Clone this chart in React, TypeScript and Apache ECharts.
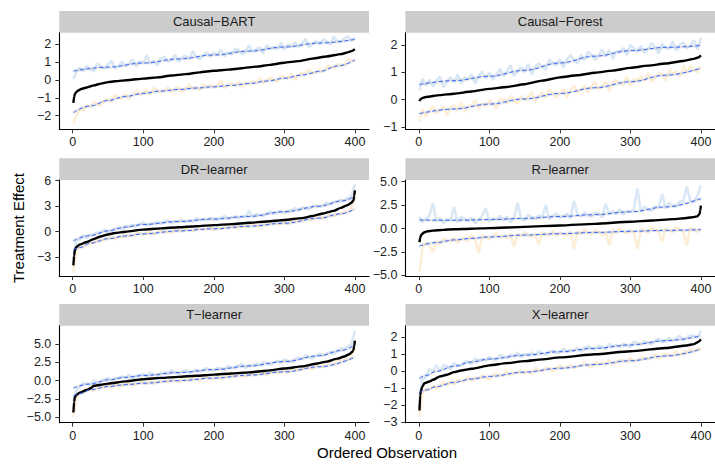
import React, { useEffect, useRef } from "react";
import * as echarts from "echarts";

// ---------- shared ----------
const panelNames = ["Causal−BART", "Causal−Forest", "DR−learner", "R−learner", "T−learner", "X−learner"];
const xTicks = [0, 100, 200, 300, 400];
const obsBand = [1, 5, 10, 15, 20, 25, 30, 35, 40, 45, 50, 55, 60, 65, 70, 75, 80, 85, 90, 95, 100, 105, 110, 115, 120, 125, 130, 135, 140, 145, 150, 155, 160, 165, 170, 175, 180, 185, 190, 195, 200, 205, 210, 215, 220, 225, 230, 235, 240, 245, 250, 255, 260, 265, 270, 275, 280, 285, 290, 295, 300, 305, 310, 315, 320, 325, 330, 335, 340, 345, 350, 355, 360, 365, 370, 375, 380, 385, 390, 395, 400];
const smoothObs9 = [1, 50, 100, 150, 200, 250, 300, 350, 400];

// ---------- Causal-BART ----------
const bartYTicks = [-2, -1, 0, 1, 2];
const bartEstObs = [1, 2, 3, 5, 8, 12, 20, 30, 40, 50, 60, 80, 100, 120, 140, 160, 180, 200, 220, 240, 260, 280, 300, 320, 340, 360, 380, 390, 395, 400];
const bartEst = [-1.28, -0.95, -0.8, -0.68, -0.58, -0.5, -0.42, -0.3, -0.2, -0.12, -0.07, 0.0, 0.08, 0.15, 0.25, 0.33, 0.43, 0.52, 0.58, 0.66, 0.75, 0.85, 0.97, 1.06, 1.2, 1.32, 1.45, 1.55, 1.62, 1.72];
const bartUpper = [0.05, 0.45, 0.69, 0.5, 0.8, 0.61, 0.49, 0.94, 0.75, 0.63, 0.86, 1.09, 0.63, 0.79, 1.02, 0.76, 0.93, 1.16, 0.76, 1.06, 0.95, 1.39, 0.92, 1.08, 0.82, 1.2, 1.29, 1.03, 1.12, 1.43, 1.03, 1.26, 1.35, 1.16, 1.61, 1.28, 1.16, 1.39, 1.56, 1.3, 1.53, 1.41, 1.71, 1.32, 1.55, 1.43, 1.73, 1.69, 1.43, 1.59, 1.96, 1.56, 1.73, 1.82, 1.49, 1.93, 1.75, 1.84, 1.72, 2.09, 1.7, 2.0, 1.88, 2.11, 1.85, 2.02, 2.32, 1.85, 2.01, 2.18, 1.99, 2.29, 2.17, 1.98, 2.43, 2.17, 2.12, 2.35, 2.45, 2.19, 2.35];
const bartLower = [-2.42, -2.0, -1.62, -1.72, -1.4, -1.51, -1.21, -1.33, -1.45, -1.09, -1.09, -1.22, -0.82, -1.01, -1.03, -0.8, -1.07, -0.79, -0.64, -0.84, -0.75, -0.6, -0.82, -0.43, -0.59, -0.68, -0.6, -0.4, -0.69, -0.49, -0.41, -0.69, -0.5, -0.24, -0.53, -0.39, -0.56, -0.24, -0.41, -0.27, -0.44, -0.3, -0.05, -0.45, -0.32, -0.18, -0.34, -0.08, -0.42, -0.16, -0.2, -0.05, -0.2, 0.12, -0.21, 0.0, 0.15, 0.0, -0.08, 0.19, 0.16, 0.08, 0.35, 0.03, 0.24, 0.4, 0.38, 0.6, 0.34, 0.44, 0.6, 0.42, 0.78, 0.72, 0.66, 0.9, 0.85, 0.8, 1.16, 1.11, 1.06];
const bartUpperSmooth = [0.5, 0.72, 0.95, 1.18, 1.4, 1.62, 1.85, 2.07, 2.28];
const bartLowerSmoothObs = [1, 25, 50, 75, 100, 125, 150, 175, 200, 225, 250, 275, 300, 325, 350, 375, 400];
const bartLowerSmooth = [-1.82, -1.45, -1.15, -0.92, -0.75, -0.62, -0.53, -0.45, -0.38, -0.3, -0.2, -0.06, 0.1, 0.28, 0.48, 0.78, 1.12];

// ---------- Causal-Forest ----------
const forestYTicks = [-1, 0, 1, 2];
const forestEstObs = [1, 2, 4, 10, 30, 50, 75, 100, 125, 150, 175, 200, 225, 250, 275, 300, 325, 350, 375, 390, 396, 400];
const forestEst = [-0.05, 0.0, 0.05, 0.1, 0.17, 0.22, 0.3, 0.4, 0.47, 0.57, 0.7, 0.82, 0.9, 0.99, 1.07, 1.17, 1.25, 1.33, 1.42, 1.5, 1.55, 1.63];
const forestUpper = [0.35, 0.78, 0.52, 0.74, 0.48, 0.7, 0.85, 0.45, 0.67, 0.83, 0.63, 0.93, 0.59, 0.82, 0.76, 0.92, 0.59, 0.88, 1.04, 0.77, 1.0, 0.74, 0.9, 1.13, 0.87, 1.04, 1.27, 0.87, 1.03, 1.2, 1.01, 1.32, 0.92, 1.23, 1.33, 1.22, 1.1, 1.48, 1.37, 1.25, 1.49, 1.17, 1.47, 1.64, 1.45, 1.34, 1.64, 1.46, 1.76, 1.65, 1.46, 1.62, 1.85, 1.59, 1.82, 1.49, 1.79, 1.74, 1.9, 1.64, 2.01, 1.88, 1.76, 1.98, 1.71, 1.86, 2.08, 1.95, 1.69, 2.05, 1.92, 1.86, 2.14, 1.8, 2.02, 2.1, 1.89, 1.97, 2.19, 1.84, 2.27];
const forestLower = [-0.79, -0.36, -0.62, -0.39, -0.23, -0.5, -0.41, -0.25, -0.58, -0.29, -0.2, -0.39, -0.09, -0.43, -0.27, -0.18, -0.02, -0.35, -0.13, -0.25, -0.02, -0.14, -0.33, 0.04, -0.01, -0.14, 0.16, -0.03, -0.15, 0.15, -0.04, 0.12, 0.28, -0.05, 0.11, 0.27, 0.08, 0.38, 0.26, 0.07, 0.23, 0.39, 0.06, 0.36, 0.52, 0.27, 0.36, 0.52, 0.26, 0.49, 0.65, 0.39, 0.48, 0.65, 0.32, 0.62, 0.71, 0.59, 0.55, 0.85, 0.52, 0.75, 0.71, 0.87, 0.69, 0.99, 0.66, 0.83, 0.99, 0.95, 0.69, 1.07, 0.95, 1.05, 0.86, 1.24, 0.99, 1.22, 1.11, 0.99, 1.23];
const forestUpperSmooth = [0.56, 0.7, 0.86, 1.08, 1.35, 1.6, 1.8, 1.92, 1.99];
const forestLowerSmooth = [-0.51, -0.34, -0.16, 0.03, 0.23, 0.44, 0.66, 0.9, 1.16];

// ---------- DR-learner ----------
const drYTicks = [-3, 0, 3, 6];
const drEstObs = [1, 2, 3, 5, 10, 20, 30, 40, 50, 60, 75, 100, 125, 150, 175, 200, 225, 250, 275, 300, 325, 340, 355, 370, 380, 390, 395, 398, 399, 400];
const drEst = [-3.95, -2.8, -2.2, -1.8, -1.5, -1.2, -0.85, -0.55, -0.32, -0.15, 0.0, 0.25, 0.4, 0.53, 0.65, 0.78, 0.9, 1.05, 1.2, 1.38, 1.6, 1.85, 2.15, 2.45, 2.8, 3.15, 3.4, 3.7, 4.2, 4.85];
const drUpper = [-3.2, -1.1, -0.91, -0.46, -0.74, -0.37, -0.34, -0.07, -0.2, 0.24, -0.06, 0.2, 0.37, 0.54, 0.23, 0.63, 0.61, 0.83, 0.66, 0.88, 1.09, 0.73, 0.92, 1.04, 1.15, 0.95, 1.06, 1.34, 0.97, 1.25, 1.2, 1.39, 1.18, 1.37, 1.16, 1.59, 1.38, 1.49, 1.36, 1.63, 1.5, 1.37, 1.64, 1.83, 1.54, 1.65, 1.84, 1.55, 1.82, 1.77, 2.44, 1.77, 2.07, 1.96, 1.86, 2.15, 2.37, 2.1, 2.24, 2.45, 2.19, 2.5, 2.48, 2.79, 2.53, 2.84, 2.74, 2.65, 2.95, 3.1, 2.92, 3.1, 3.44, 3.14, 3.48, 3.5, 3.76, 3.66, 3.96, 4.25, 5.6];
const drLower = [-4.8, -2.3, -1.77, -1.84, -1.36, -1.35, -1.32, -0.89, -1.19, -0.84, -0.82, -0.59, -0.93, -0.54, -0.64, -0.34, -0.45, -0.56, -0.11, -0.22, -0.33, -0.21, -0.02, -0.3, -0.03, 0.17, -0.12, 0.0, -0.13, 0.23, 0.18, 0.05, 0.39, 0.18, 0.04, 0.31, 0.41, 0.2, 0.3, 0.57, 0.19, 0.46, 0.33, 0.6, 0.47, 0.74, 0.37, 0.64, 0.59, 0.54, 0.81, 1.01, 0.64, 0.76, 0.95, 0.67, 0.94, 1.14, 0.85, 0.97, 1.16, 0.82, 1.2, 1.18, 1.4, 1.22, 1.6, 1.42, 1.32, 1.62, 1.76, 1.6, 1.77, 2.09, 1.77, 2.1, 2.1, 2.41, 2.32, 2.79, 4.0];
const drUpperSmoothObs = [1, 25, 50, 75, 100, 150, 200, 250, 300, 350, 380, 400];
const drUpperSmooth = [-1.05, -0.45, 0.1, 0.55, 0.85, 1.2, 1.5, 1.8, 2.35, 3.0, 3.6, 4.15];
const drLowerSmoothObs = [1, 10, 25, 50, 75, 100, 150, 200, 250, 300, 350, 380, 400];
const drLowerSmooth = [-2.15, -1.85, -1.35, -0.82, -0.5, -0.25, 0.1, 0.35, 0.65, 1.0, 1.6, 2.1, 2.7];

// ---------- R-learner ----------
const rYTicks = [-5, -2.5, 0, 2.5, 5];
const rEstObs = [1, 2, 3, 5, 8, 12, 20, 35, 50, 75, 100, 150, 200, 250, 300, 330, 360, 380, 390, 395, 398, 399, 400];
const rEst = [-1.45, -1.0, -0.75, -0.55, -0.4, -0.3, -0.22, -0.14, -0.08, -0.02, 0.04, 0.18, 0.32, 0.5, 0.72, 0.85, 1.0, 1.12, 1.22, 1.3, 1.55, 1.9, 2.45];
const rUpper = [1.26, 0.66, 1.02, 1.37, 2.69, 0.77, 1.12, 0.52, 1.0, 0.88, 2.32, 0.65, 1.25, 1.02, 0.79, 1.15, 0.56, 0.93, 1.42, 2.14, 0.71, 1.08, 0.98, 1.35, 0.88, 1.26, 0.67, 1.16, 2.74, 1.07, 0.84, 1.46, 1.24, 1.02, 1.4, 1.18, 2.52, 0.98, 1.36, 1.62, 1.16, 1.3, 1.56, 1.1, 2.92, 1.5, 1.28, 1.78, 1.44, 1.22, 1.72, 1.63, 1.18, 2.65, 1.6, 1.87, 1.54, 2.05, 1.48, 1.87, 1.78, 2.07, 4.28, 1.82, 2.35, 2.04, 1.85, 2.38, 2.32, 3.69, 2.18, 2.75, 2.48, 2.33, 2.9, 2.87, 4.52, 2.93, 2.9, 3.47, 4.64];
const rLower = [-4.6, -2.18, -1.5, -1.78, -2.54, -1.38, -1.68, -1.02, -1.33, -1.39, -0.98, -1.55, -1.03, -1.12, -1.32, -0.69, -1.14, -2.67, -0.72, -0.93, -1.14, -0.76, -0.5, -0.96, -0.82, -1.04, -0.54, -1.96, -0.62, -0.84, -0.34, -0.68, -0.91, -0.53, -1.72, -0.38, -0.61, -0.71, -0.22, -0.8, -0.43, -0.54, -0.76, -0.27, -2.18, -0.36, -0.59, -0.1, -0.45, -0.67, -0.18, -0.29, -0.76, -0.38, -1.81, -0.12, -0.47, 0.02, -0.32, -0.55, -0.18, -0.41, -2.2, -0.03, -0.26, -0.49, 0.12, -0.11, -0.34, -1.41, 0.04, -0.19, -0.42, 0.19, -0.05, -0.28, -1.83, 0.1, -0.13, -0.37, 0.0];
const rUpperSmooth = [0.9, 0.88, 0.95, 1.08, 1.28, 1.48, 1.78, 2.3, 3.2];
const rLowerSmoothObs = [1, 25, 50, 75, 100, 150, 200, 250, 300, 350, 400];
const rLowerSmooth = [-1.88, -1.5, -1.22, -1.05, -0.9, -0.7, -0.55, -0.42, -0.3, -0.2, -0.12];

// ---------- T-learner ----------
const tYTicks = [-5, -2.5, 0, 2.5, 5];
const tEstObs = [1, 2, 3, 5, 10, 20, 26, 30, 40, 50, 75, 100, 125, 150, 175, 200, 225, 250, 275, 300, 325, 345, 360, 375, 385, 392, 396, 398, 399, 400];
const tEst = [-4.35, -2.9, -2.3, -1.95, -1.65, -1.28, -1.0, -0.7, -0.55, -0.4, -0.1, 0.2, 0.38, 0.52, 0.67, 0.82, 0.98, 1.13, 1.35, 1.65, 1.95, 2.3, 2.6, 3.0, 3.3, 3.6, 3.9, 4.2, 4.7, 5.45];
const tUpper = [-3.3, -1.3, -0.88, -0.37, -0.46, -0.65, 0.06, -0.23, -0.22, 0.19, 0.4, -0.03, 0.34, 0.31, 0.58, 0.35, 0.8, 0.35, 0.6, 0.75, 0.9, 0.64, 1.08, 0.82, 0.66, 1.0, 1.14, 0.88, 1.42, 1.06, 0.9, 1.24, 1.48, 1.12, 1.26, 1.5, 1.14, 1.48, 1.72, 1.46, 1.4, 1.75, 1.7, 1.45, 2.0, 1.75, 1.7, 2.05, 2.3, 1.75, 2.1, 2.06, 2.32, 2.08, 2.54, 2.4, 2.16, 2.42, 2.68, 2.44, 2.9, 2.68, 2.56, 2.94, 3.12, 2.9, 3.48, 3.16, 3.04, 3.42, 3.7, 3.42, 3.63, 3.95, 3.67, 4.08, 4.4, 4.3, 4.7, 5.0, 6.8];
const tLower = [-5.0, -2.5, -1.65, -1.68, -1.12, -1.25, -1.36, -0.87, -0.88, -0.99, -0.5, -0.95, -0.7, -0.45, -0.7, -0.45, -0.21, -0.67, -0.43, -0.19, -0.25, -0.41, 0.02, -0.44, -0.21, -0.07, 0.06, -0.2, 0.23, -0.03, -0.2, 0.24, 0.17, 0.01, 0.44, 0.18, 0.01, 0.35, 0.48, 0.22, 0.35, 0.69, 0.23, 0.57, 0.51, 0.75, 0.49, 0.93, 0.67, 0.51, 0.85, 1.0, 0.74, 1.19, 0.93, 0.78, 1.12, 1.37, 1.01, 1.16, 1.4, 1.07, 1.44, 1.71, 1.48, 1.45, 1.82, 1.79, 1.56, 2.13, 1.9, 1.93, 2.36, 2.39, 2.22, 2.85, 2.68, 2.91, 2.84, 3.27, 4.3];
const tUpperSmoothObs = [1, 25, 50, 75, 100, 150, 200, 250, 300, 350, 380, 400];
const tUpperSmooth = [-1.0, -0.45, 0.1, 0.45, 0.7, 1.1, 1.5, 2.0, 2.6, 3.4, 4.1, 4.9];
const tLowerSmoothObs = [1, 10, 25, 50, 75, 100, 150, 200, 250, 300, 350, 400];
const tLowerSmooth = [-2.1, -1.75, -1.25, -0.8, -0.55, -0.35, 0.0, 0.35, 0.75, 1.2, 1.9, 3.2];

// ---------- X-learner ----------
const xlYTicks = [-3, -2, -1, 0, 1, 2];
const xlEstObs = [1, 2, 3, 5, 8, 15, 20, 30, 40, 50, 60, 75, 100, 125, 150, 175, 200, 250, 300, 350, 380, 390, 396, 400];
const xlEst = [-2.3, -1.4, -1.15, -0.9, -0.7, -0.6, -0.5, -0.3, -0.2, -0.05, 0.05, 0.15, 0.35, 0.48, 0.6, 0.7, 0.82, 1.0, 1.18, 1.37, 1.52, 1.6, 1.72, 1.88];
const xlUpper = [-1.6, -0.45, -0.37, 0.13, -0.02, 0.36, 0.0, 0.36, 0.3, 0.12, 0.48, 0.35, 0.34, 0.57, 0.56, 0.43, 0.76, 0.62, 0.71, 0.63, 0.84, 0.74, 0.65, 0.97, 0.87, 0.78, 0.98, 0.88, 1.09, 0.81, 1.01, 0.97, 1.11, 0.95, 1.21, 1.05, 0.95, 1.15, 1.23, 1.07, 1.15, 1.35, 1.13, 1.27, 1.23, 1.37, 1.15, 1.35, 1.49, 1.33, 1.29, 1.49, 1.45, 1.29, 1.61, 1.45, 1.53, 1.43, 1.63, 1.53, 1.43, 1.76, 1.66, 1.57, 1.77, 1.68, 1.58, 1.79, 1.93, 1.72, 1.8, 1.95, 1.8, 1.94, 2.09, 1.82, 1.97, 2.12, 2.08, 1.99, 2.4];
const xlLower = [-2.7, -1.37, -1.04, -1.09, -0.85, -1.02, -0.85, -0.62, -0.81, -0.64, -0.77, -0.49, -0.57, -0.59, -0.31, -0.57, -0.36, -0.39, -0.24, -0.39, -0.48, -0.21, -0.13, -0.22, -0.26, 0.01, -0.27, -0.06, -0.1, 0.05, -0.11, 0.03, -0.12, 0.2, 0.04, 0.01, 0.21, 0.17, 0.01, 0.16, 0.36, 0.14, 0.28, 0.37, 0.15, 0.29, 0.37, 0.51, 0.3, 0.26, 0.52, 0.42, 0.5, 0.41, 0.67, 0.39, 0.53, 0.67, 0.64, 0.54, 0.8, 0.53, 0.68, 0.77, 0.85, 0.7, 0.79, 1.0, 0.73, 0.93, 1.02, 0.94, 0.92, 1.2, 0.94, 1.16, 1.14, 1.3, 1.16, 1.32, 1.35];
const xlUpperSmoothObs = [1, 10, 25, 50, 75, 100, 150, 200, 250, 300, 350, 400];
const xlUpperSmooth = [-0.42, -0.25, 0.0, 0.3, 0.55, 0.72, 0.95, 1.15, 1.35, 1.55, 1.8, 2.08];
const xlLowerSmoothObs = [1, 10, 25, 50, 75, 100, 150, 200, 250, 300, 350, 400];
const xlLowerSmooth = [-1.27, -1.1, -0.9, -0.65, -0.45, -0.3, -0.05, 0.18, 0.4, 0.62, 0.9, 1.3];

const pairs = (xs: number[], ys: number[]) => xs.map((x, i) => [x, ys[i]]);

type Panel = {
  name: string;
  yMin: number;
  yMax: number;
  yTicks: number[];
  dec: number;
  estObs: number[];
  est: number[];
  upper: number[];
  lower: number[];
  upSmObs: number[];
  upSm: number[];
  loSmObs: number[];
  loSm: number[];
};

const panels: Panel[] = [
  { name: panelNames[0], yMin: -2.76, yMax: 2.65, yTicks: bartYTicks, dec: 0, estObs: bartEstObs, est: bartEst, upper: bartUpper, lower: bartLower, upSmObs: smoothObs9, upSm: bartUpperSmooth, loSmObs: bartLowerSmoothObs, loSm: bartLowerSmooth },
  { name: panelNames[1], yMin: -1.085, yMax: 2.46, yTicks: forestYTicks, dec: 0, estObs: forestEstObs, est: forestEst, upper: forestUpper, lower: forestLower, upSmObs: smoothObs9, upSm: forestUpperSmooth, loSmObs: smoothObs9, loSm: forestLowerSmooth },
  { name: panelNames[2], yMin: -5.2, yMax: 6.08, yTicks: drYTicks, dec: 0, estObs: drEstObs, est: drEst, upper: drUpper, lower: drLower, upSmObs: drUpperSmoothObs, upSm: drUpperSmooth, loSmObs: drLowerSmoothObs, loSm: drLowerSmooth },
  { name: panelNames[3], yMin: -5.07, yMax: 5.18, yTicks: rYTicks, dec: 1, estObs: rEstObs, est: rEst, upper: rUpper, lower: rLower, upSmObs: smoothObs9, upSm: rUpperSmooth, loSmObs: rLowerSmoothObs, loSm: rLowerSmooth },
  { name: panelNames[4], yMin: -5.74, yMax: 7.5, yTicks: tYTicks, dec: 1, estObs: tEstObs, est: tEst, upper: tUpper, lower: tLower, upSmObs: tUpperSmoothObs, upSm: tUpperSmooth, loSmObs: tLowerSmoothObs, loSm: tLowerSmooth },
  { name: panelNames[5], yMin: -3.02, yMax: 2.68, yTicks: xlYTicks, dec: 0, estObs: xlEstObs, est: xlEst, upper: xlUpper, lower: xlLower, upSmObs: xlUpperSmoothObs, upSm: xlUpperSmooth, loSmObs: xlLowerSmoothObs, loSm: xlLowerSmooth },
];

const FONT = "'Liberation Sans', Arial, Helvetica, sans-serif";
const cols = [
  { left: 59.3, width: 309.7 },
  { left: 405.4, width: 309.6 },
];
const rows = [
  { top: 32.7, height: 96.6 },
  { top: 180, height: 96 },
  { top: 325.7, height: 97 },
];
const STRIP_H = 21.8;

function buildOption() {
  const grid: any[] = [];
  const xAxis: any[] = [];
  const yAxis: any[] = [];
  const series: any[] = [];
  const graphic: any[] = [];

  panels.forEach((p, i) => {
    const c = cols[i % 2];
    const r = rows[Math.floor(i / 2)];
    grid.push({ left: c.left, top: r.top, width: c.width, height: r.height, containLabel: false });
    const axisLine = { show: true, onZero: false, lineStyle: { color: "#000", width: 1.1 } };
    const axisTickBase = { show: true, length: 4, inside: false, lineStyle: { color: "#333", width: 1 } };
    xAxis.push({
      type: "value",
      gridIndex: i,
      min: -18.95,
      max: 419.95,
      axisLine,
      axisTick: { ...axisTickBase, customValues: xTicks },
      axisLabel: { customValues: xTicks, color: "#222", fontSize: 12.5, fontFamily: FONT, margin: 6.5 },
      splitLine: { show: false },
    });
    yAxis.push({
      type: "value",
      gridIndex: i,
      min: p.yMin,
      max: p.yMax,
      axisLine,
      axisTick: { ...axisTickBase, customValues: p.yTicks },
      axisLabel: {
        customValues: p.yTicks,
        color: "#222",
        fontSize: 12.5,
        fontFamily: FONT,
        margin: 8,
        formatter: (v: number) => (p.dec ? v.toFixed(1) : String(v)).replace("-", "\u2212"),
      },
      splitLine: { show: false },
    });
    const common = { type: "line", xAxisIndex: i, yAxisIndex: i, showSymbol: false, symbol: "none", silent: true, animation: false };
    series.push({ ...common, data: pairs(obsBand, p.upper), lineStyle: { color: "#dae8f5", width: 2.6 } });
    series.push({ ...common, data: pairs(obsBand, p.lower), lineStyle: { color: "#fdeed8", width: 2.6 } });
    series.push({ ...common, data: pairs(p.upSmObs, p.upSm), smooth: 0.4, smoothMonotone: "x", lineStyle: { color: "rgba(170,170,170,0.22)", width: 3 } });
    series.push({ ...common, data: pairs(p.loSmObs, p.loSm), smooth: 0.4, smoothMonotone: "x", lineStyle: { color: "rgba(170,170,170,0.22)", width: 3 } });
    series.push({ ...common, data: pairs(p.estObs, p.est), smooth: 0.2, smoothMonotone: "x", lineStyle: { color: "#000", width: 2.4 } });
    series.push({ ...common, data: pairs(p.upSmObs, p.upSm), smooth: 0.4, smoothMonotone: "x", lineStyle: { color: "#3366FF", width: 1, type: [4, 2.5] } });
    series.push({ ...common, data: pairs(p.loSmObs, p.loSm), smooth: 0.4, smoothMonotone: "x", lineStyle: { color: "#3366FF", width: 1, type: [4, 2.5] } });

    graphic.push({
      type: "rect",
      shape: { x: c.left, y: r.top - STRIP_H, width: c.width, height: STRIP_H },
      style: { fill: "#cccccc" },
      silent: true,
    });
    graphic.push({
      type: "text",
      x: c.left + c.width / 2,
      y: r.top - STRIP_H / 2,
      style: { text: p.name, font: `13px ${FONT}`, fill: "#1a1a1a", align: "center", verticalAlign: "middle" },
      silent: true,
    });
  });

  graphic.push({
    type: "text",
    x: 387,
    y: 452,
    style: { text: "Ordered Observation", font: `15px ${FONT}`, fill: "#000", align: "center", verticalAlign: "middle" },
    silent: true,
  });
  graphic.push({
    type: "text",
    x: 18,
    y: 228,
    rotation: Math.PI / 2,
    style: { text: "Treatment Effect", font: `15px ${FONT}`, fill: "#000", align: "center", verticalAlign: "middle" },
    silent: true,
  });

  return { animation: false, backgroundColor: "#fff", grid, xAxis, yAxis, series, graphic };
}

export default function App() {
  const ref = useRef<HTMLDivElement>(null);
  useEffect(() => {
    if (!ref.current) return;
    const chart = echarts.init(ref.current, undefined, { renderer: "svg" });
    chart.setOption(buildOption() as any);
    return () => chart.dispose();
  }, []);
  return <div ref={ref} style={{ position: "fixed", left: 0, top: 0, width: 715, height: 466, background: "#fff" }} />;
}
